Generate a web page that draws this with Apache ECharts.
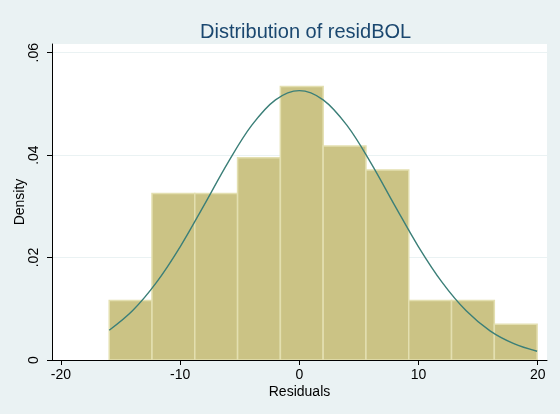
<!DOCTYPE html>
<html>
<head>
<meta charset="utf-8">
<script src="https://cdn.jsdelivr.net/npm/echarts@6/dist/echarts.min.js"></script>
<style>
html,body{margin:0;padding:0;background:#eaf2f3;}
#chart{width:560px;height:414px;}
</style>
</head>
<body>
<div id="chart"></div>
<script>
const titleText = 'Distribution of residBOL';
const xName = 'Residuals';
const yName = 'Density';
const binEdges = [-15.95, -12.36, -8.77, -5.18, -1.59, 2.00, 5.59, 9.18, 12.77, 16.36, 19.95];
const densities = [0.0116, 0.0325, 0.0325, 0.0395, 0.0534, 0.0418, 0.0371, 0.0116, 0.0116, 0.0070];
const curveX = [-15.95, -14, -12, -10, -8, -6, -4, -2, 0, 2, 4, 6, 8, 10, 12, 14, 16, 18, 19.95];
const curveY = [0.0058, 0.0096, 0.0151, 0.0221, 0.0302, 0.0385, 0.0458, 0.0508, 0.0526, 0.0508, 0.0458, 0.0385, 0.0302, 0.0221, 0.0151, 0.0096, 0.0057, 0.0032, 0.0017];
const xTicks = [-20, -10, 0, 10, 20];
const yTicks = [0, 0.02, 0.04, 0.06];
const yTickLabels = ['0', '.02', '.04', '.06'];

const histData = densities.map((d, i) => [binEdges[i], binEdges[i + 1], d]);
const curveData = curveX.map((x, i) => [x, curveY[i]]);

const chart = echarts.init(document.getElementById('chart'), null, {renderer: 'canvas'});
const font = 'Liberation Sans, Arial, Helvetica, sans-serif';
chart.setOption({
  backgroundColor: '#eaf2f3',
  animation: false,
  title: {
    text: titleText,
    left: 195,
    top: 17,
    textStyle: {color: '#1a476f', fontSize: 20, fontWeight: 'normal', fontFamily: font}
  },
  grid: {left: 52, right: 13, top: 44, bottom: 54, show: true, backgroundColor: '#ffffff', borderWidth: 0,
    containLabel: false, outerBoundsMode: 'none'},
  xAxis: {
    type: 'value',
    min: -20.75,
    max: 20.78,
    z: 10,
    name: xName,
    nameLocation: 'middle',
    nameGap: 25,
    nameMoveOverlap: false,
    nameTextStyle: {color: '#000', fontSize: 14, fontFamily: font},
    axisLine: {show: true, onZero: false, lineStyle: {color: '#000', width: 1}},
    axisTick: {show: true, length: 5, customValues: xTicks, lineStyle: {color: '#000'}},
    axisLabel: {customValues: xTicks, color: '#000', fontSize: 14, fontFamily: font, margin: 8,
      formatter: v => String(v)},
    splitLine: {show: false}
  },
  yAxis: {
    type: 'value',
    min: 0,
    max: 0.0617,
    interval: 0.02,
    name: yName,
    nameLocation: 'middle',
    nameGap: 25,
    nameMoveOverlap: false,
    nameRotate: 90,
    nameTextStyle: {color: '#000', fontSize: 14, fontFamily: font},
    axisLine: {show: true, onZero: false, lineStyle: {color: '#000', width: 1}},
    axisTick: {show: true, length: 5, customValues: yTicks, lineStyle: {color: '#000'}},
    axisLabel: {customValues: yTicks, rotate: 90, color: '#000', fontSize: 14, fontFamily: font, margin: 11,
      formatter: v => { const i = yTicks.findIndex(t => Math.abs(t - v) < 1e-9); return i >= 0 ? yTickLabels[i] : ''; }},
    splitLine: {show: true, lineStyle: {color: '#eaf2f3', width: 1}}
  },
  series: [
    {
      type: 'custom',
      data: histData,
      encode: {x: [0, 1], y: 2},
      renderItem: function (params, api) {
        const p0 = api.coord([api.value(0), api.value(2)]);
        const p1 = api.coord([api.value(1), 0]);
        return {
          type: 'rect',
          shape: {x: p0[0], y: p0[1], width: p1[0] - p0[0], height: p1[1] - p0[1]},
          style: {fill: '#cbc385', stroke: '#e3dfb0', lineWidth: 1.5}
        };
      },
      z: 2
    },
    {
      type: 'line',
      data: curveData,
      smooth: 0.35,
      showSymbol: false,
      lineStyle: {color: '#3b7f78', width: 1.4},
      z: 3
    }
  ]
});
</script>
</body>
</html>
